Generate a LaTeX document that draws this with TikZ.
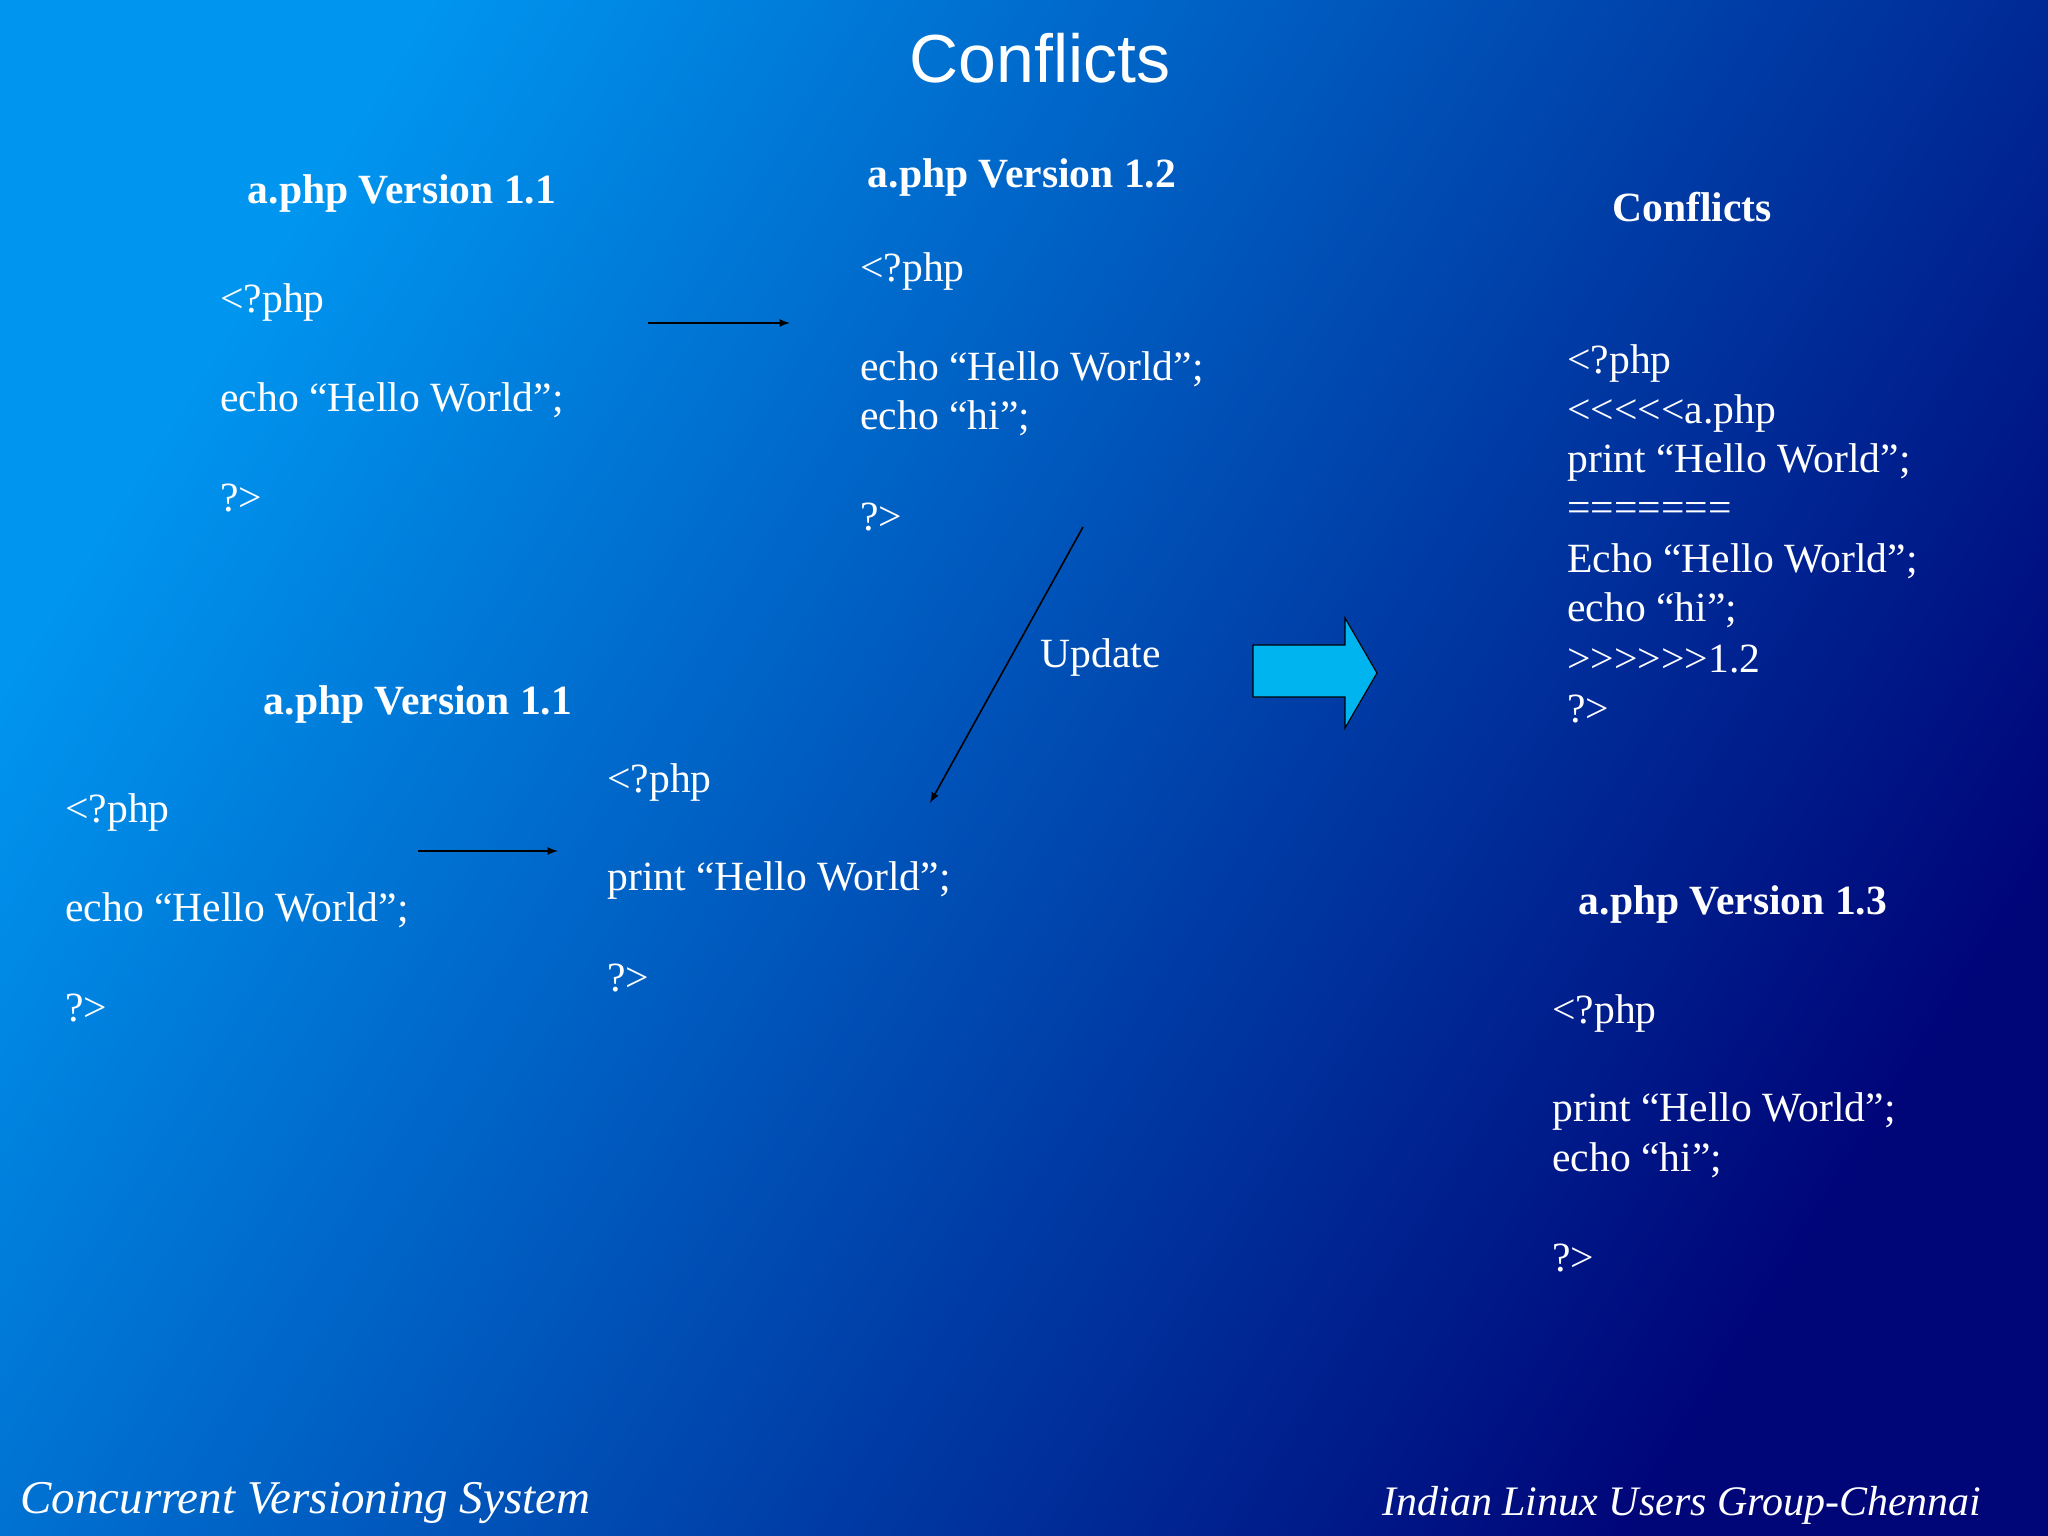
\documentclass[tikz,border=0pt]{standalone}
\usepackage{fontspec}
\setmainfont{Liberation Serif}
\newfontfamily\titlefont{Liberation Sans}
\begin{document}
\begin{tikzpicture}[x=0.5pt,y=-0.5pt,
  txt/.style={anchor=west,text=white,font=\fontsize{20.8}{22}\selectfont,inner sep=0pt},
  hd/.style={text=white,font=\fontsize{20.8}{22}\selectfont\bfseries,inner sep=0pt},
  arr/.style={-latex,black,line width=0.8pt}]
\definecolor{bgA}{RGB}{0,150,240}
\definecolor{bgB}{RGB}{0,5,120}
\definecolor{cyanA}{RGB}{0,180,240}
\useasboundingbox (0,0) rectangle (2048,1535);
\shade[shading=axis,left color=bgA,right color=bgB,shading angle=58] (0,0) rectangle (2048,1535);
\node[text=white,font=\fontsize{34}{36}\titlefont] (title) at (1040,58) {Conflicts};
% top-left
\node[hd] (h1) at (402,193) {a.php Version 1.1};
\node[txt] (a1) at (220,302) {<?php};
\node[txt] (a2) at (220,400) {echo “Hello World”;};
\node[txt] (a3) at (220,498) {?>};
\coordinate (p1) at (648,323); \coordinate (p2) at (790,323);
\draw[arr] (p1) -- (p2);
% top-middle
\node[hd] (h2) at (1022,177) {a.php Version 1.2};
\node[txt] (b1) at (860,271) {<?php};
\node[txt] (b2) at (860,369) {echo “Hello World”;};
\node[txt] (b3) at (860,418) {echo “hi”;};
\node[txt] (b4) at (860,517) {?>};
\coordinate (u1) at (1083,527); \coordinate (u2) at (930,803);
\draw[arr] (u1) -- (u2);
\node[txt] (upd) at (1040,657) {Update};
% bottom-left
\node[hd] (h3) at (418,704) {a.php Version 1.1};
\node[txt] (c1) at (65,812) {<?php};
\node[txt] (c2) at (65,910) {echo “Hello World”;};
\node[txt] (c3) at (65,1008) {?>};
\coordinate (q1) at (418,851); \coordinate (q2) at (558,851);
\draw[arr] (q1) -- (q2);
\node[txt] (d1) at (607,782) {<?php};
\node[txt] (d2) at (607,880) {print “Hello World”;};
\node[txt] (d3) at (607,978) {?>};
% big arrow
\draw[fill=cyanA,draw=black,line width=0.6pt] (1253,645) -- (1345,645) -- (1345,618) -- (1377,673) -- (1345,728) -- (1345,697) -- (1253,697) -- cycle;
% conflicts
\node[hd] (h4) at (1692,207) {Conflicts};
\node[txt] (e1) at (1567,363) {<?php};
\node[txt] (e2) at (1567,413) {<{}<{}<{}<{}<a.php};
\node[txt] (e3) at (1567,462) {print “Hello World”;};
\node[txt] (e4) at (1567,512) {=======};
\node[txt] (e5) at (1567,561) {Echo “Hello World”;};
\node[txt] (e6) at (1567,610) {echo “hi”;};
\node[txt] (e7) at (1567,659) {>{}>{}>{}>{}>{}>1.2};
\node[txt] (e8) at (1567,709) {?>};
% version 1.3
\node[hd] (h5) at (1733,904) {a.php Version 1.3};
\node[txt] (f1) at (1552,1013) {<?php};
\node[txt] (f2) at (1552,1111) {print “Hello World”;};
\node[txt] (f3) at (1552,1160) {echo “hi”;};
\node[txt] (f4) at (1552,1258) {?>};
% footer
\node[anchor=west,text=white,font=\fontsize{23.5}{24}\selectfont\itshape,inner sep=0pt] (ft1) at (20,1503) {Concurrent Versioning System};
\node[anchor=east,text=white,font=\fontsize{21}{24}\selectfont\itshape,inner sep=0pt] (ft2) at (1982,1505) {Indian Linux Users Group-Chennai};
\end{tikzpicture}
\end{document}
